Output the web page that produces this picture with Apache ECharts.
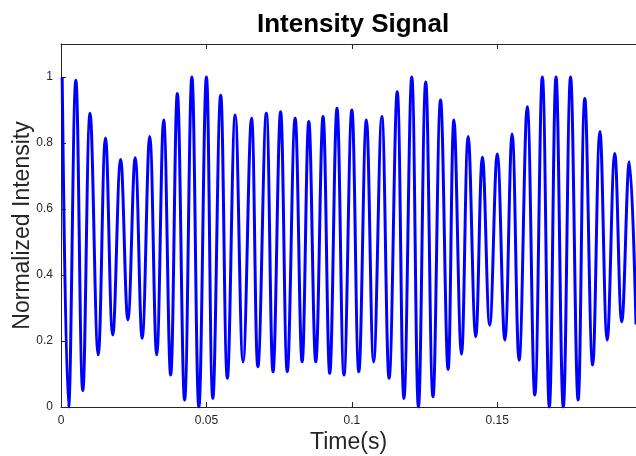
<!DOCTYPE html>
<html>
<head>
<meta charset="utf-8">
<script src="https://cdn.jsdelivr.net/npm/echarts@6/dist/echarts.min.js"></script>
<style>
html,body{margin:0;padding:0;background:#fff;}
#chart{width:636px;height:456px;}
</style>
</head>
<body>
<div id="chart"></div>
<script>
// Signal extrema (time in s, normalized intensity)
var peakTimes = [0.0004,0.0051,0.0100,0.0153,0.0205,0.0255,0.0305,0.0353,0.0400,0.0450,
                 0.0500,0.0549,0.0599,0.0655,0.0706,0.0755,0.0805,0.0852,0.0901,0.0949,
                 0.1000,0.1050,0.1103,0.1156,0.1206,0.1254,0.1305,0.1351,0.1400,0.1449,
                 0.1500,0.1551,0.1603,0.1655,0.1702,0.1752,0.1801,0.1853,0.1904,0.1954];
var peakValues = [1.0,0.99,0.89,0.815,0.75,0.755,0.82,0.87,0.95,1.0,
                  1.0,0.945,0.885,0.875,0.89,0.895,0.875,0.865,0.88,0.905,
                  0.9,0.87,0.88,0.955,1.0,0.985,0.93,0.87,0.82,0.757,
                  0.767,0.827,0.91,1.0,1.0,1.0,0.935,0.835,0.768,0.743];
var troughTimes = [0.0026,0.0075,0.0128,0.0178,0.0230,0.0279,0.0329,0.0377,0.0425,0.0474,
                   0.0522,0.0572,0.0626,0.0677,0.0729,0.0778,0.0829,0.0876,0.0924,0.0973,
                   0.1024,0.1075,0.1128,0.1179,0.1229,0.1279,0.1331,0.1377,0.1426,0.1474,
                   0.1526,0.1575,0.1629,0.1679,0.1727,0.1778,0.1828,0.1878,0.1928,0.1977];
var troughValues = [0.0,0.05,0.158,0.218,0.264,0.208,0.158,0.097,0.021,0.0,
                    0.026,0.087,0.137,0.122,0.107,0.107,0.137,0.137,0.102,0.097,
                    0.107,0.137,0.087,0.026,0.0,0.031,0.114,0.160,0.213,0.248,
                    0.203,0.142,0.036,0.0,0.0,0.021,0.127,0.203,0.258,0.25];
var xTicks = [0, 0.05, 0.1, 0.15];
var xVisibleMax = 0.1977; // the reference figure is cropped at the right edge
var yTicks = [0, 0.2, 0.4, 0.6, 0.8, 1];
var yMax = 1.1;

var seriesData = [];
for (var i = 0; i < peakTimes.length; i++) {
  seriesData.push([peakTimes[i], peakValues[i]]);
  if (i < troughTimes.length) seriesData.push([troughTimes[i], troughValues[i]]);
}

var FONT = 'Liberation Sans, Arial, Helvetica, sans-serif';
var AX = '#262626';
var chart = echarts.init(document.getElementById('chart'), null, {renderer: 'canvas'});
chart.setOption({
  animation: false,
  backgroundColor: '#ffffff',
  title: {
    text: 'Intensity Signal',
    left: 252, top: 7,
    textStyle: {fontFamily: FONT, fontSize: 26, fontWeight: 'bold', color: '#000'}
  },
  grid: {left: 61, top: 44, right: 0, bottom: 49, containLabel: false, outerBoundsMode: 'none'},
  xAxis: [{
    type: 'value', position: 'bottom',
    min: xTicks[0], max: xVisibleMax, interval: 0.05,
    name: 'Time(s)', nameLocation: 'middle', nameGap: 24, nameMoveOverlap: false,
    nameTextStyle: {fontFamily: FONT, fontSize: 23, color: AX},
    axisLine: {show: true, lineStyle: {color: AX, width: 1}},
    axisTick: {show: true, inside: true, length: 5, lineStyle: {color: AX}},
    axisLabel: {fontFamily: FONT, fontSize: 12, color: AX, margin: 8, showMaxLabel: false},
    splitLine: {show: false}
  }, {
    type: 'value', position: 'top',
    min: xTicks[0], max: xVisibleMax, interval: 0.05,
    axisLine: {show: true, lineStyle: {color: AX, width: 1}},
    axisTick: {show: true, inside: true, length: 5, lineStyle: {color: AX}},
    axisLabel: {show: false},
    splitLine: {show: false}
  }],
  yAxis: {
    type: 'value', min: yTicks[0], max: yMax, interval: 0.2,
    name: 'Normalized Intensity', nameLocation: 'middle', nameGap: 27, nameRotate: 90,
    nameMoveOverlap: false,
    nameTextStyle: {fontFamily: FONT, fontSize: 23, color: AX},
    axisLine: {show: true, lineStyle: {color: AX, width: 1}},
    axisTick: {show: true, inside: true, length: 5, lineStyle: {color: AX}},
    axisLabel: {fontFamily: FONT, fontSize: 12, color: AX, margin: 8, showMaxLabel: false,
      formatter: function (v) { return String(Math.round(v * 10) / 10); }},
    splitLine: {show: false}
  },
  series: [{
    type: 'line',
    xAxisIndex: 0,
    data: seriesData,
    smooth: 0.4,
    showSymbol: false,
    clip: true,
    lineStyle: {color: '#0000ff', width: 3}
  }]
});
</script>
</body>
</html>
